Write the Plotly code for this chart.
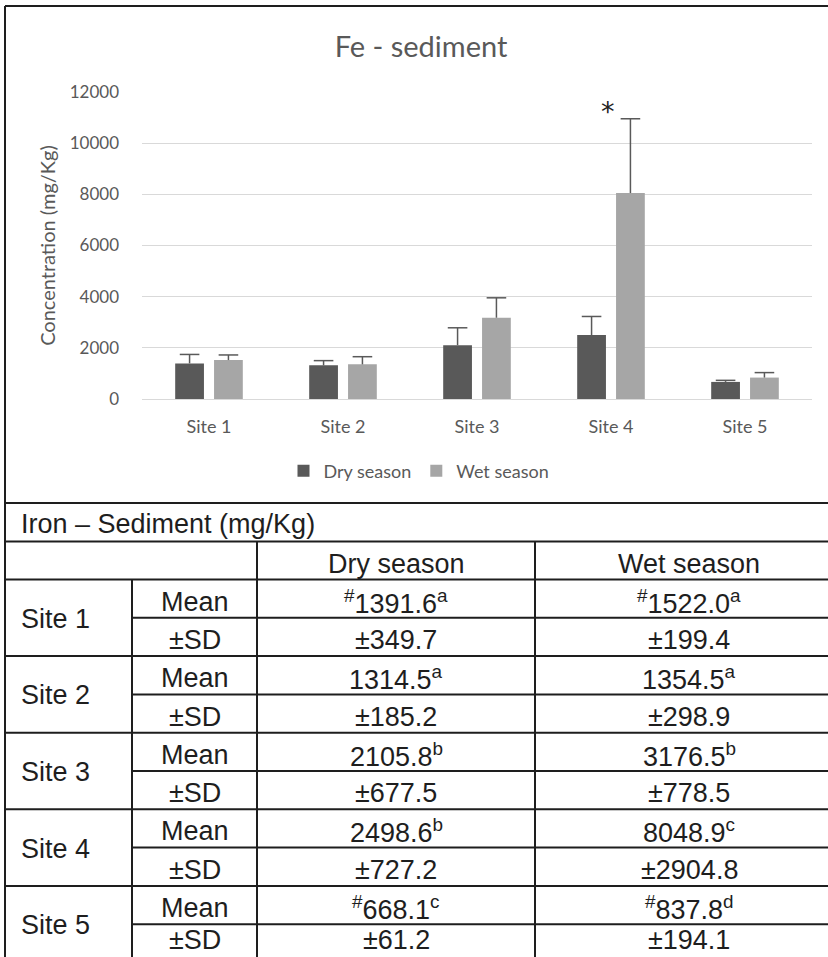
import plotly.graph_objects as go

# ---------------- data ----------------
sites = ["Site 1", "Site 2", "Site 3", "Site 4", "Site 5"]
series_names = ["Dry season", "Wet season"]
dry_mean = [1391.6, 1314.5, 2105.8, 2498.6, 668.1]
dry_sd = [349.7, 185.2, 677.5, 727.2, 61.2]
wet_mean = [1522.0, 1354.5, 3176.5, 8048.9, 837.8]
wet_sd = [199.4, 298.9, 778.5, 2904.8, 194.1]
dry_pre = ["#", "", "", "", "#"]
dry_post = ["a", "a", "b", "b", "c"]
wet_pre = ["#", "", "", "", "#"]
wet_post = ["a", "a", "b", "c", "d"]
y_ticks = [0, 2000, 4000, 6000, 8000, 10000, 12000]
chart_title = "Fe - sediment"
y_title = "Concentration (mg/Kg)"
table_title = "Iron – Sediment (mg/Kg)"
row_labels = ["Mean", "±SD"]
signif_site = "Site 4"
signif_mark = "*"

# ---------------- geometry helpers (pixels -> paper) ----------------
W, H = 828, 957
def px(x):
    return x / W
def py(y):
    return 1 - y / H

GRAY_TXT = "#595959"
DRY = "#595959"
WET = "#a6a6a6"
ERR = "#595959"
CFONT = "Lato"
TFONT = "Liberation Sans"

fig = go.Figure()
for name, mean, sd, col in [(series_names[0], dry_mean, dry_sd, DRY),
                            (series_names[1], wet_mean, wet_sd, WET)]:
    fig.add_trace(go.Bar(
        name=name, x=sites, y=mean, marker=dict(color=col, line=dict(width=0)),
        offsetgroup=name,
        error_y=dict(type="data", symmetric=False, array=sd, arrayminus=[0] * len(sd),
                     color=ERR, thickness=1.5, width=0),
    ))
# caps of the error bars (top only, as in the original)
for name, mean, sd in [(series_names[0], dry_mean, dry_sd),
                       (series_names[1], wet_mean, wet_sd)]:
    fig.add_trace(go.Scatter(
        x=sites, y=[m + s for m, s in zip(mean, sd)], mode="markers",
        offsetgroup=name, showlegend=False, hoverinfo="skip",
        marker=dict(symbol="line-ew", size=14, color=ERR,
                    line=dict(color=ERR, width=1.5)),
    ))

fig.update_layout(
    width=W, height=H,
    margin=dict(l=0, r=0, t=0, b=0, autoexpand=False),
    paper_bgcolor="white", plot_bgcolor="white",
    barmode="group", bargap=0.42, bargroupgap=0.26,
    scattermode="group", scattergap=0.42,
    font=dict(family=CFONT, color=GRAY_TXT, size=18),
    title=dict(text=chart_title, x=px(421), y=py(47), xanchor="center", yanchor="middle",
               font=dict(family=CFONT, size=29, color=GRAY_TXT)),
    xaxis=dict(domain=[px(142), px(812)], showgrid=False, showline=False, zeroline=False,
               automargin=False,
               ticks="", tickfont=dict(size=18, color=GRAY_TXT), ticklabelstandoff=15),
    yaxis=dict(domain=[py(399), py(92)], range=[0, 12000], tickvals=y_ticks,
               tickformat="d", automargin=False,
               showgrid=True, gridcolor="#d9d9d9", gridwidth=1,
               zeroline=True, zerolinecolor="#d9d9d9", zerolinewidth=1,
               showline=False, ticks="", ticklabelstandoff=22,
               tickfont=dict(size=17, color=GRAY_TXT),
               title=dict(text=y_title, standoff=8, font=dict(size=20, color=GRAY_TXT))),
    legend=dict(orientation="h", x=px(419), y=py(471), xanchor="center", yanchor="middle",
                font=dict(size=18, color=GRAY_TXT), bgcolor="rgba(0,0,0,0)",
                itemwidth=30, traceorder="normal"),
    showlegend=True,
)

# significance mark
fig.add_annotation(x=signif_site, y=11250, xref="x", yref="y", text=signif_mark,
                   showarrow=False, xshift=-3,
                   font=dict(family="DejaVu Sans", size=27, color="#222222"))

# ---------------- chart frame ----------------
LINE = "#1e1e1e"
shapes = []
def hline(y, x0, x1, w=2):
    shapes.append(dict(type="line", xref="paper", yref="paper", x0=px(x0), x1=px(x1),
                       y0=py(y), y1=py(y), line=dict(color=LINE, width=w)))
def vline(x, y0, y1, w=2):
    shapes.append(dict(type="line", xref="paper", yref="paper", x0=px(x), x1=px(x),
                       y0=py(y0), y1=py(y1), line=dict(color=LINE, width=w)))

hline(6, 5, 860)
vline(5, 6, 503)

# ---------------- table ----------------
col_x = [5, 132, 257, 535, 843]
t_top, t_head, t_body = 503, 541.5, 579.5
row_h = 38.3
n_rows = 2 * len(sites)
body_y = [t_body + i * row_h for i in range(n_rows + 1)]

hline(t_top, 5, 860)
hline(t_head, 5, 860)
for i, y in enumerate(body_y):
    if i % 2 == 1:
        hline(y, col_x[1], 860)
    else:
        hline(y, 5, 860)
vline(col_x[0], t_top, 990)
vline(col_x[1], t_body, 990)
vline(col_x[2], t_head, 990)
vline(col_x[3], t_head, 990)

TXT = "#1e1e1e"
def txt(x, y, s, anchor="center", size=27):
    # keep the text box inside the page (the last table row is cut by the page edge)
    if y > H - 14:
        fig.add_annotation(x=px(x), y=0, xref="paper", yref="paper", text=s,
                           showarrow=False, xanchor=anchor, yanchor="bottom",
                           font=dict(family=TFONT, size=size, color=TXT))
        return
    fig.add_annotation(x=px(x), y=py(y), xref="paper", yref="paper", text=s,
                       showarrow=False, xanchor=anchor, yanchor="middle",
                       font=dict(family=TFONT, size=size, color=TXT))

def sup(pre, val, post):
    s = ""
    if pre:
        s += f"<sup>{pre}</sup>"
    s += f"{val:.1f}"
    if post:
        s += f"<sup>{post}</sup>"
    return s

txt(19, (t_top + t_head) / 2 + 2, table_title, anchor="left")
txt((col_x[2] + col_x[3]) / 2, (t_head + t_body) / 2 + 3, series_names[0])
txt((col_x[3] + col_x[4]) / 2, (t_head + t_body) / 2 + 3, series_names[1])

for i, s in enumerate(sites):
    y_mean = (body_y[2 * i] + body_y[2 * i + 1]) / 2 + 3
    y_sd = (body_y[2 * i + 1] + body_y[2 * i + 2]) / 2 + 3
    txt(19, body_y[2 * i + 1] + 1, s, anchor="left", size=27)
    txt((col_x[1] + col_x[2]) / 2, y_mean, row_labels[0])
    txt((col_x[1] + col_x[2]) / 2, y_sd, row_labels[1])
    txt((col_x[2] + col_x[3]) / 2, y_mean, sup(dry_pre[i], dry_mean[i], dry_post[i]))
    txt((col_x[2] + col_x[3]) / 2, y_sd, f"±{dry_sd[i]:.1f}")
    txt((col_x[3] + col_x[4]) / 2, y_mean, sup(wet_pre[i], wet_mean[i], wet_post[i]))
    txt((col_x[3] + col_x[4]) / 2, y_sd, f"±{wet_sd[i]:.1f}")

fig.update_layout(shapes=shapes)
fig.write_html("out.html", config={"displayModeBar": False},
               post_script="document.body.style.margin='0';document.body.style.overflow='hidden';")
